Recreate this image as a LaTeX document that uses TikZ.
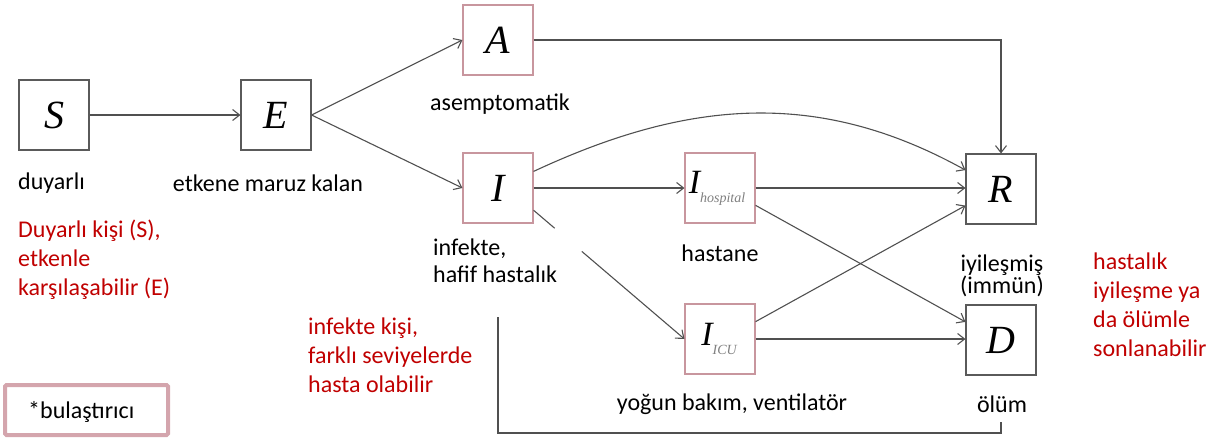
\documentclass[tikz,border=0pt]{standalone}
\usepackage{fontspec}
\setmainfont{Carlito}
\newfontfamily\boxfont{Liberation Serif}
\usetikzlibrary{arrows.meta,calc}
\definecolor{pinkb}{RGB}{200,150,158}
\definecolor{grayb}{RGB}{90,90,90}
\definecolor{linec}{RGB}{80,80,80}
\definecolor{redt}{RGB}{192,0,0}
\definecolor{legb}{RGB}{212,165,173}
\tikzset{
  comp/.style={draw=grayb, line width=1.1pt, minimum width=70pt, minimum height=70pt, inner sep=0pt, fill=white,
    font=\boxfont\fontsize{40}{40}\selectfont\itshape},
  compp/.style={comp, draw=pinkb},
  lab/.style={font=\fontsize{24}{22}\selectfont, text=black, inner sep=0pt},
  rlab/.style={font=\fontsize{24}{29}\selectfont, text=redt, inner sep=0pt, align=left},
  flow/.style={draw=linec, line width=1.1pt, -{Straight Barb[length=7pt,width=11pt,line width=1.1pt]}},
  plain/.style={draw=linec, line width=1.1pt}
}
\newcommand{\subtxt}[1]{\raisebox{-9pt}{\boxfont\fontsize{14}{14}\selectfont\itshape\color{gray}#1}}
\begin{document}
\begin{tikzpicture}[x=1pt,y=1pt]
\useasboundingbox (0,0) rectangle (1211,-442);
% compartments
\node[comp]  (S) at (54,-115) {S};
\node[comp]  (E) at (276,-115) {E};
\node[compp] (A) at (498,-40) {A};
\node[compp] (I) at (498,-188) {I};
\node[compp, font=\boxfont\fontsize{34}{34}\selectfont\itshape] (Ih) at (720,-188) {\hspace*{-6pt}I\subtxt{hospital}};
\node[compp, font=\boxfont\fontsize{34}{34}\selectfont\itshape] (Ic) at (720,-339) {\hspace*{-2pt}I\subtxt{ICU}};
\node[comp]  (R) at (1001,-189) {R};
\node[comp]  (D) at (1001,-340) {D};
% black labels
\node[lab, anchor=west] (lS) at (18,-183) {duyarlı};
\node[lab] (lE) at (268,-183) {etkene maruz kalan};
\node[lab] (lA) at (500,-104) {asemptomatik};
\node[lab, anchor=north west, align=left, font=\fontsize{24}{27}\selectfont] (lI) at (433,-239) {infekte,\\hafif hastalık};
\node[lab] (lIh) at (720,-253) {hastane};
\node[lab, align=center] (lR) at (1002,-276) {iyileşmiş\\(immün)};
\node[lab] (lIc) at (732,-404) {yoğun bakım, ventilatör};
\node[lab] (lD) at (1002,-404) {ölüm};
% red notes
\node[rlab, anchor=north west] (n1) at (18,-220) {Duyarlı kişi (S),\\etkenle\\karşılaşabilir (E)};
\node[rlab, anchor=north west] (n2) at (308,-318) {infekte kişi,\\farklı seviyelerde\\hasta olabilir};
\node[rlab, anchor=north west] (n3) at (1093,-253) {hastalık\\iyileşme ya\\da ölümle\\sonlanabilir};
% legend
\node[draw=legb, line width=4pt, rounded corners=1.5pt, minimum width=163pt, minimum height=50pt, inner sep=0pt] (leg) at (86.5,-410) {};
\node[lab, anchor=west] (legt) at (28,-412) {*bulaştırıcı};
% flows
\draw[flow] (S) -- (E);
\draw[flow] (E.east) -- (A.west);
\draw[flow] (E.east) -- (I.west);
\draw[flow] (A.east) -| (R.north);
\draw[flow] (I.25) to[out=25,in=151] (R.152);
\draw[flow] (I) -- (Ih);
\coordinate (ia) at ($(I.-32)!0.14!(Ic.west)$);
\coordinate (ib) at ($(I.-32)!0.32!(Ic.west)$);
\draw[plain] (I.-32) -- (ia);
\draw[flow] (ib) -- (Ic.west);
\draw[flow] (Ih) -- (R.west |- Ih);
\draw[flow] (Ih.-26) -- (D.153);
\draw[flow] (Ic.26) -- (R.205);
\draw[flow] (Ic) -- (D.west |- Ic);
% bottom bracket
\coordinate (b1) at (498,-317);
\coordinate (b2) at (1001,-422);
\draw[plain] (b1) -- ++(0,-116) -| (b2);
\end{tikzpicture}
\end{document}
